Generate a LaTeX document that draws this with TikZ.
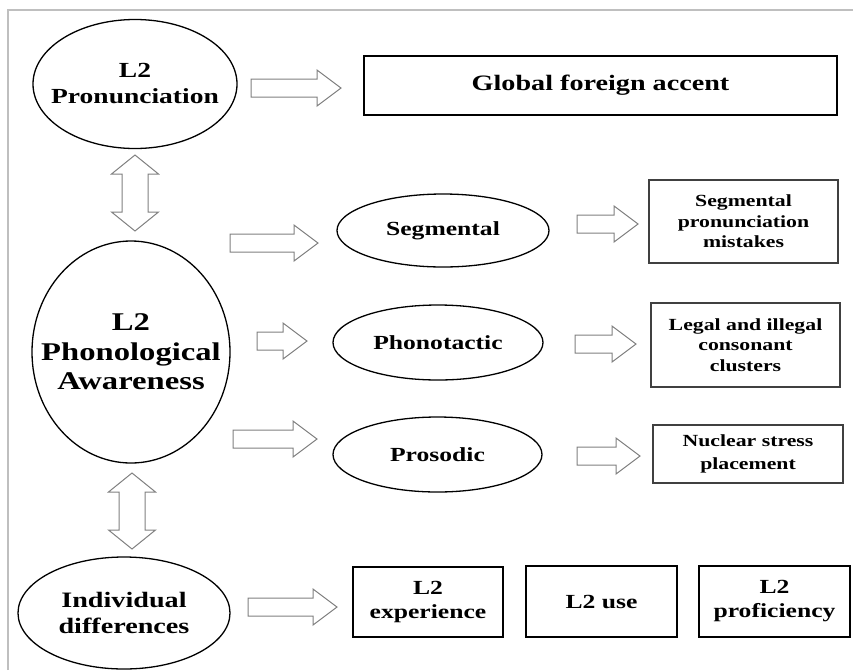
\documentclass[tikz,border=0pt]{standalone}
\usepackage{fontspec}
\setmainfont{Liberation Serif}[FakeStretch=1.28]
\usetikzlibrary{shapes.geometric,calc}

\newcommand{\fsz}[2]{\bfseries\fontsize{#1}{#2}\selectfont}

\begin{document}
\begin{tikzpicture}[x=1pt,y=-1pt,
		ell/.style={draw,ellipse,line width=1.3pt,inner sep=0pt,align=center},
		box/.style={draw,rectangle,line width=1.2pt,inner sep=0pt,align=center},
		blockarr/.style={draw=black!50,line width=1pt,fill=white}]
		\useasboundingbox (0,0) rectangle (853,670);
		%frame
		\draw[black!25,line width=1.5pt] (8,670) -- (8,10) -- (853,10);
		
		%left column
		\node[ell,inner xsep=-16pt,minimum width=204pt,minimum height=129pt,font=\fsz{21.5}{26}] (pron) at (135,84) {L2\\Pronunciation};
		\node[ell,inner xsep=-22pt,minimum width=198pt,minimum height=222pt,font=\fsz{25.5}{29.5}] (phon) at (131,352) {L2\\Phonological\\Awareness};
		\node[ell,minimum width=212pt,minimum height=112pt,font=\fsz{22}{26.5}] (indiv) at (124,613) {Individual\\differences};
		
		%middle column
		\node[ell,minimum width=212pt,minimum height=73pt,font=\fsz{20}{24}] (seg) at (443,230.5) {Segmental};
		\node[ell,minimum width=210pt,minimum height=75pt,font=\fsz{20}{24}] (phono) at (438,342.5) {Phonotactic};
		\node[ell,minimum width=209pt,minimum height=75pt,font=\fsz{20}{24}] (pros) at (437.5,454.5) {Prosodic};
		
		%boxes
		\node[box,line width=1.6pt,minimum width=473pt,minimum height=59pt,font=\fsz{22}{26}] (global) at (600.5,85.5) {Global foreign accent};
		\node[box,draw=black!75,minimum width=189pt,minimum height=83pt,font=\fsz{17}{20.5}] (segbox) at (743.5,221.5) {Segmental\\pronunciation\\mistakes};
		\node[box,draw=black!75,minimum width=189pt,minimum height=84pt,font=\fsz{17}{20.5}] (legalbox) at (745.5,345) {Legal and illegal\\consonant\\clusters};
		\node[box,draw=black!75,minimum width=190pt,minimum height=58pt,font=\fsz{17}{23}] (nucbox) at (748,454) {Nuclear stress\\placement};
		\node[box,line width=1.5pt,minimum width=150pt,minimum height=70pt,font=\fsz{20}{24}] (exp) at (428,602) {L2\\experience};
		\node[box,line width=1.5pt,minimum width=151pt,minimum height=71pt,font=\fsz{20}{24}] (use) at (601.5,601.5) {L2 use};
		\node[box,line width=1.5pt,minimum width=151pt,minimum height=71pt,font=\fsz{20}{24}] (prof) at (774.5,601.5) {L2\\proficiency};
		
		%arrow ends
		\coordinate (g1) at (251,88);  \coordinate (g2) at (341,88);
		\coordinate (s1) at (230,243); \coordinate (s2) at (318,243);
		\coordinate (t1) at (257,341); \coordinate (t2) at (307,341);
		\coordinate (r1) at (233,439); \coordinate (r2) at (317,439);
		\coordinate (sb1) at (577,224); \coordinate (sb2) at (638,224);
		\coordinate (tb1) at (575,344); \coordinate (tb2) at (636,344);
		\coordinate (rb1) at (577,456); \coordinate (rb2) at (640,456);
		\coordinate (x1) at (248,607); \coordinate (x2) at (337,607);
		\coordinate (v1) at (135,155); \coordinate (v2) at (135,231);
		\coordinate (w1) at (132,473); \coordinate (w2) at (132,549);
		
		%block arrows
		\foreach \a/\b in {g1/g2,s1/s2,t1/t2,r1/r2,sb1/sb2,tb1/tb2,rb1/rb2,x1/x2}{
			\draw[blockarr] ($(\a)+(0,-9)$) -- ($(\b)+(-24,-9)$) -- ($(\b)+(-24,-18)$) -- (\b) -- ($(\b)+(-24,18)$) -- ($(\b)+(-24,9)$) -- ($(\a)+(0,9)$) -- cycle;
		}
		%double arrows
		\foreach \a/\b in {v1/v2,w1/w2}{
			\draw[blockarr] (\a) -- ($(\a)+(23.5,19)$) -- ($(\a)+(13,19)$) -- ($(\b)+(13,-19)$) -- ($(\b)+(23.5,-19)$) -- (\b) -- ($(\b)+(-23.5,-19)$) -- ($(\b)+(-13,-19)$) -- ($(\a)+(-13,19)$) -- ($(\a)+(-23.5,19)$) -- cycle;
		}
		
\end{tikzpicture}
\end{document}
